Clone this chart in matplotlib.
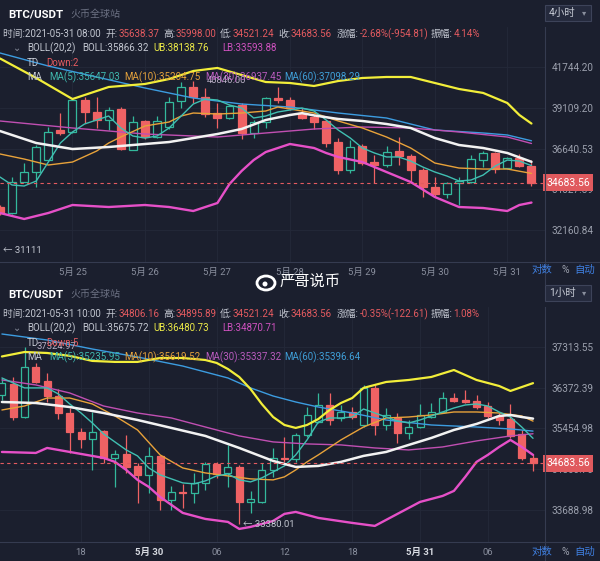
import matplotlib.pyplot as plt
from matplotlib.patches import Rectangle, Ellipse
from matplotlib.ticker import NullLocator, NullFormatter
from matplotlib.lines import Line2D

plt.rcParams['font.family'] = ['Roboto', 'Noto Sans CJK SC', 'DejaVu Sans']

BG = '#1b1f2e'
GRID = '#242939'
EDGE = '#353b50'
RED = '#ef6264'
GREEN = '#33b89c'
LABEL = '#c3c7d1'
TICK = '#9ba0ad'
T_RED = '#e45b60'
C_MID = '#f2f2f2'
C_UB = '#f2ee3a'
C_LB = '#e650c8'
C_MA5 = '#40bfb2'
C_MA10 = '#e8a23a'
C_MA30 = '#c04fb2'
C_MA60 = '#3c9ce0'

# ---------------- 4h panel (5/24 00:00 .. 5/31 08:00) ----------------
h4_open = [33360, 33050, 34720, 35280, 35968, 37745, 37625, 39609, 38850, 38357,
           39040, 36551, 38296, 37324, 37928, 39546, 40445, 39800, 38790, 38480,
           39292, 37565, 38234, 39736, 39609, 38790, 38542, 38296, 37024, 35396,
           36790, 35853, 35682, 36492, 36200, 35396, 34445, 34060, 34667, 34722,
           35968, 36378, 35510, 36084, 35638.37]
h4_high = [33460, 35020, 35795, 36847, 37930, 38790, 39670, 39800, 39800, 39165,
           39165, 38604, 38357, 38604, 39800, 40770, 40846, 40380, 39420, 39292,
           39420, 38357, 39800, 40445, 39800, 39103, 38666, 38357, 37262, 37142,
           36906, 36262, 36790, 37324, 36320, 35510, 35001, 34722, 35001, 36262,
           36492, 36434, 36142, 36320, 35998.00]
h4_low = [32930, 33000, 34700, 34445, 35950, 37444, 37565, 38170, 37868, 37745,
          36551, 36540, 37203, 37264, 37806, 39103, 39418, 38542, 37868, 38420,
          37203, 37264, 37868, 39418, 38977, 38420, 37806, 36730, 35170, 35226,
          35682, 34667, 35568, 35682, 34667, 33895, 33895, 33840, 33463, 34667,
          35568, 35226, 35453, 35568, 34521.24]
h4_close = [33040, 34740, 35280, 36725, 37625, 37565, 39609, 38853, 38357, 38977,
            36610, 38234, 37324, 38296, 39483, 40445, 39800, 38728, 38480, 39230,
            37565, 38234, 39736, 39609, 39103, 38480, 38234, 36965, 35396, 36730,
            35796, 35682, 36434, 36200, 35396, 34445, 34060, 34667, 34777, 36026,
            36378, 35453, 36084, 35638.37, 34683.56]

h4_ub_idx = [0, 3, 6, 9, 12, 14, 16, 18, 20, 22, 24, 26, 28, 30, 32, 34, 36, 38, 40, 42, 43, 44]
h4_ub = [42340, 41034, 39670, 40445, 40640, 40966, 41497, 41700, 41231, 40770, 40706,
         40510, 40836, 41034, 41100, 41100, 40706, 40315, 40060, 39418, 38666, 38138.76]
h4_mid_idx = [0, 3, 6, 9, 12, 14, 16, 18, 20, 22, 24, 25, 26, 28, 30, 32, 34, 36, 38, 40, 42, 44]
h4_mid = [37684, 36966, 36610, 36730, 36906, 37024, 37262, 37503, 37806, 38357, 38666,
          38780, 38640, 38420, 38296, 38111, 37868, 37262, 36847, 36670, 36378, 35866.32]
h4_lb_idx = [0, 2, 4, 6, 9, 12, 14, 16, 18, 19, 20, 21, 22, 24, 26, 27, 28, 30, 32, 34,
             36, 38, 40, 42, 43, 44]
h4_lb = [33036, 32720, 33036, 33463, 33355, 33463, 33355, 33142, 33570, 34610, 35340,
         35968, 36434, 36906, 36670, 36378, 36146, 35853, 35283, 34722, 33895, 33355,
         33302, 33142, 33463, 33593.88]
h4_ma60_idx = [0, 4, 8, 12, 16, 20, 24, 28, 32, 36, 40, 42, 44]
h4_ma60 = [42714, 41830, 41100, 40380, 39736, 39355, 39165, 38790, 38480, 37745, 37565,
           37444, 37098.29]
h4_ma30_idx = [0, 6, 12, 18, 22, 26, 30, 34, 38, 42, 44]
h4_ma30 = [38296, 37868, 37503, 37324, 37565, 37806, 37928, 37868, 37625, 37324, 36937.45]
h4_ma10_idx = [0, 2, 4, 6, 8, 9, 10, 12, 14, 15, 16, 18, 20, 22, 23, 24, 26, 28, 30, 32,
               34, 36, 38, 40, 42, 44]
h4_ma10 = [36320, 36026, 35682, 35853, 36492, 36966, 37324, 37989, 38234, 38604, 38790,
           38728, 38790, 38915, 39165, 39040, 38790, 38296, 37868, 37324, 36670, 35796,
           35510, 35453, 35453, 35204.75]
h4_ma5 = [35000, 34555, 34500, 34777, 35853, 36966, 37625, 38111, 38357, 38604, 37868,
          37384, 37262, 37384, 37868, 38604, 39355, 39670, 39609, 39292, 39103, 38480,
          38604, 38853, 38977, 39103, 38915, 38357, 37745, 37262, 36670, 36378, 36146,
          36146, 35910, 35568, 35283, 35057, 34777, 34833, 35113, 35625, 35968, 35910,
          35647.03]

h4_xticks = [6, 12, 18, 24, 30, 36, 42]
h4_xlabels = ['5月 25', '5月 26', '5月 27', '5月 28', '5月 29', '5月 30', '5月 31']
h4_yticks = [32160.84, 34327.89, 36640.53, 39109.20, 41744.20]

# ---------------- 1h panel (5/29 11:00 .. 5/31 10:00) ----------------
h1_open = [36210, 36462, 35712, 36853, 36531, 36187, 35802, 35378, 35222, 35400,
           34804, 34891, 34629, 34434, 34848, 33896, 34068, 34046, 34261, 34673,
           34477, 34607, 33853, 33853, 34542, 34804, 34782, 35311, 35600, 35983,
           35690, 35825, 35533, 36372, 35533, 35690, 35355, 35488, 35712, 35825,
           36141, 36096, 36073, 35960, 35735, 35667, 35333, 34806.16]
h1_high = [36600, 36622, 37324.97, 36945, 36715, 36347, 35915, 35467, 35825, 35422,
           34979, 35311, 34695, 35045, 34870, 34196, 34240, 34477, 34717, 34717,
           35090, 34651, 34089, 34695, 35023, 35266, 35355, 35937, 36256, 36256,
           35983, 35937, 36440, 36440, 35915, 35802, 35645, 36004, 36028, 36279,
           36256, 36324, 36210, 36051, 35802, 36004, 35422, 34895.89]
h1_low = [36096, 35645, 35690, 36485, 36051, 35667, 34913, 35023, 34542, 34695,
          34175, 34477, 33832, 34046, 33683, 33683, 33726, 33832, 34110, 34369,
          34175, 33380.01, 33620, 33832, 34391, 34717, 34717, 35266, 35578, 35533,
          35622, 35667, 35488, 35311, 35422, 35134, 35222, 35467, 35690, 35802,
          36051, 36028, 35892, 35690, 35533, 35244, 34760, 34521.24]
h1_close = [36485, 35712, 36853, 36508, 36187, 35802, 35378, 35222, 35378, 34804,
            34891, 34607, 34434, 34848, 33896, 34068, 34046, 34261, 34673, 34456,
            34607, 33853, 33917, 34542, 34804, 34782, 35311, 35757, 35983, 35645,
            35825, 35712, 36372, 35533, 35757, 35355, 35488, 35757, 35825, 36141,
            36073, 36051, 35937, 35735, 35645, 35289, 34806.17, 34683.56]

h1_ub_idx = [0, 2, 4, 6, 8, 10, 12, 14, 16, 18, 19, 20, 21, 22, 23, 24, 25, 26, 27, 28,
             29, 30, 31, 32, 34, 36, 38, 40, 42, 44, 45, 47]
h1_ub = [37099, 37203, 37180, 37113, 36995, 36972, 36972, 37063, 37063, 37017, 36948,
         36807, 36623, 36347, 36004, 35712, 35533, 35467, 35533, 35667, 35870, 36028,
         36141, 36372, 36508, 36554, 36623, 36784, 36554, 36416, 36302, 36480.73]
h1_mid_idx = [0, 3, 6, 9, 12, 15, 18, 21, 24, 26, 28, 30, 32, 34, 36, 38, 40, 42, 44, 45, 46, 47]
h1_mid = [36051, 36028, 35937, 35802, 35645, 35467, 35289, 35023, 34738, 34607, 34629,
          34717, 34848, 34935, 35090, 35244, 35422, 35556, 35735, 35757, 35712, 35675.72]
h1_lb_idx = [0, 3, 4, 6, 9, 10, 11, 12, 13, 14, 15, 16, 18, 20, 21, 22, 24, 25, 26, 28,
             31, 33, 35, 37, 39, 40, 41, 42, 43, 44, 45, 46, 47]
h1_lb = [34935, 34913, 35023, 34935, 34804, 34717, 34542, 34326, 34175, 33960, 33790,
         33620, 33493, 33430, 33283, 33325, 33451, 33599, 33641, 33514, 33409, 33346,
         33599, 33853, 33981, 34089, 34391, 34717, 34870, 35045, 35200, 35045, 34870.71]
h1_ma60_idx = [0, 4, 8, 12, 16, 20, 22, 24, 26, 28, 31, 34, 38, 42, 45, 47]
h1_ma60 = [37627, 37485, 37273, 37086, 36876, 36600, 36372, 36187, 36051, 35937, 35802,
           35645, 35533, 35488, 35444, 35396.64]
h1_ma30_idx = [0, 3, 6, 9, 12, 15, 18, 21, 24, 27, 30, 33, 36, 39, 42, 45, 47]
h1_ma30 = [36554, 36440, 36256, 35960, 35802, 35690, 35488, 35289, 35156, 35112, 35090,
           35023, 34979, 35045, 35178, 35289, 35337.32]
h1_ma10_idx = [0, 2, 4, 6, 8, 10, 12, 14, 16, 18, 20, 22, 24, 25, 26, 27, 28, 30, 32, 34,
               36, 38, 40, 42, 44, 46, 47]
h1_ma10 = [35870, 35960, 36141, 36141, 36006, 35735, 35422, 34870, 34585, 34477, 34412,
           34348, 34326, 34391, 34542, 34717, 34870, 35200, 35488, 35690, 35712, 35757,
           35825, 35825, 35802, 35735, 35619.52]
h1_ma5 = [36600, 36485, 36372, 36372, 36372, 36233, 36006, 35802, 35578, 35333, 35156,
          34979, 34848, 34585, 34434, 34348, 34261, 34240, 34304, 34412, 34456, 34326,
          34283, 34369, 34499, 34629, 34870, 35200, 35600, 35690, 35690, 35712, 35892,
          35802, 35712, 35622, 35578, 35645, 35735, 35825, 35915, 35983, 36006, 35960,
          35825, 35712, 35488, 35235.95]

h1_xticks = [7, 13, 19, 25, 31, 37, 43]
h1_xlabels = ['18', '5月 30', '06', '12', '18', '5月 31', '06']
h1_yticks = [33688.98, 34560.70, 35454.98, 36372.39, 37313.55]

last_price = 34683.56

fig = plt.figure(figsize=(6, 5.61), dpi=100, facecolor=BG)


def fx(x):
    return x / 600


def fy(y):
    return 1 - y / 561


def panel(top, o, h, l, c, w, xlim, ylim, yticks, ylabels, xticks, xlabels, bold, lines):
    ax = fig.add_axes([0, fy(top + 235), fx(545), 235 / 561])
    ax.set_facecolor(BG)
    ax.set_yscale('log')
    ax.set_xlim(*xlim)
    ax.set_ylim(*ylim)
    for i in range(len(o)):
        up = c[i] >= o[i]
        col = GREEN if up else RED
        ax.vlines(i, l[i], h[i], color=col, lw=0.9, zorder=2)
        lo, hi = min(o[i], c[i]), max(o[i], c[i])
        ax.add_patch(Rectangle((i - w / 2, lo), w, hi - lo, fc=BG if up else RED,
                               ec=col, lw=0.9, zorder=2.5))
    for idx, vals, col, lw in lines:
        ax.plot(idx, vals, color=col, lw=lw, zorder=3, solid_capstyle='round')
    ax.axhline(last_price, color=T_RED, lw=0.8, ls=(0, (3, 3)), zorder=3.5)

    ax.yaxis.tick_right()
    ax.set_yticks(yticks)
    ax.set_yticklabels(ylabels)
    ax.yaxis.set_minor_locator(NullLocator())
    ax.yaxis.set_minor_formatter(NullFormatter())
    ax.set_xticks(xticks)
    ax.set_xticklabels(xlabels)
    ax.tick_params(axis='y', length=0, pad=4.5, labelsize=7.2, labelcolor=TICK)
    ax.tick_params(axis='x', length=0, pad=4, labelsize=6.8, labelcolor='#8a8f9e')
    for lab, b in zip(ax.get_xticklabels(), bold):
        if b:
            lab.set_color('#d8dbe2')
            lab.set_fontweight('bold')
    ax.grid(True, color=GRID, lw=0.6)
    ax.set_axisbelow(True)
    for s in ['top', 'left', 'right', 'bottom']:
        ax.spines[s].set_visible(False)

    ax.text(1.002, last_price, f'{last_price:.2f}', transform=ax.get_yaxis_transform(),
            ha='left', va='center', fontsize=7.5, color='white', zorder=6, clip_on=False,
            bbox=dict(boxstyle='square,pad=0.32', fc='#e05a5e', ec='none'))
    return ax


ax1 = panel(27, h4_open, h4_high, h4_low, h4_close, 0.66, (0, 45.12), (30536, 44535),
            h4_yticks, ['32160.84', '34327.89', '36640.53', '39109.20', '41744.20'],
            h4_xticks, h4_xlabels, [False] * 7,
            [(h4_ma60_idx, h4_ma60, C_MA60, 1.0), (h4_ma30_idx, h4_ma30, C_MA30, 1.0),
             (h4_ma10_idx, h4_ma10, C_MA10, 1.0), (range(len(h4_ma5)), h4_ma5, C_MA5, 1.0),
             (h4_lb_idx, h4_lb, C_LB, 1.7), (h4_ub_idx, h4_ub, C_UB, 1.6),
             (h4_mid_idx, h4_mid, C_MID, 1.8)])
ax1.text(0.25, 31111, '← 31111', fontsize=6.8, color=LABEL, va='center', zorder=5)
ax1.text(17.1, 40846, '40846.00', fontsize=6.8, color='#b9b0c6', va='center', zorder=5)

ax2 = panel(307, h1_open, h1_high, h1_low, h1_close, 0.62, (-0.17, 48.06), (33010, 38272),
            h1_yticks, ['33688.98', '34560.70', '35454.98', '36372.39', '37313.55'],
            h1_xticks, h1_xlabels, [False, True, False, False, False, True, False],
            [(h1_ma60_idx, h1_ma60, C_MA60, 1.0), (h1_ma30_idx, h1_ma30, C_MA30, 1.0),
             (h1_ma10_idx, h1_ma10, C_MA10, 1.0), (range(len(h1_ma5)), h1_ma5, C_MA5, 1.0),
             (h1_lb_idx, h1_lb, C_LB, 1.7), (h1_ub_idx, h1_ub, C_UB, 1.6),
             (h1_mid_idx, h1_mid, C_MID, 1.8)])
ax2.text(21.3, 33380.01, '← 33380.01', fontsize=6.8, color=LABEL, va='center', zorder=5)
ax2.text(3.1, 37324.97, '37324.97', fontsize=6.8, color='#b9b0c6', va='center', zorder=5)

# frame lines
for top in (27, 307):
    fig.add_artist(Line2D([fx(545), fx(545)], [fy(top), fy(top + 258)], color=EDGE, lw=0.8))
    fig.add_artist(Line2D([0, 1], [fy(top + 235), fy(top + 235)], color=EDGE, lw=0.8))

renderer = fig.canvas.get_renderer()


def chain(x, y, parts, size=7, weight='normal'):
    for text, col in parts:
        t = fig.text(fx(x), fy(y), text, color=col, fontsize=size, va='center',
                     ha='left', fontweight=weight, zorder=10)
        x = t.get_window_extent(renderer).x1 + 0.5


def header(dy, tf, when, o, h, l, c, chg, amp, boll, ub, lb, td, ma):
    chain(8, dy + 14, [('BTC/USDT', 'white')], size=8.2, weight='bold')
    chain(70, dy + 14, [('火币全球站', '#6c7183')], size=7.2)
    fig.patches.append(Rectangle((fx(545), fy(dy + 21)), fx(46), 16 / 561, fc='#252a3d',
                                 ec='#3d4359', lw=0.8, transform=fig.transFigure))
    chain(549, dy + 13, [(tf, '#c8ccd6')], size=7.5)
    chain(582, dy + 13, [('▾', '#8a8f9e')], size=6)
    y2 = dy + 34
    chain(3, y2, [('时间:' + when, LABEL)])
    for x, lab, val in [(106, '开:', o), (163, '高:', h), (220, '低:', l), (278, '收:', c),
                        (337, '涨幅:', chg), (431, '振幅:', amp)]:
        chain(x, y2, [(lab, LABEL), (val, T_RED)])
    y3 = dy + 48
    chain(13, y3, [('⌄', '#8a8f9e')], size=7)
    chain(27, y3, [('BOLL(20,2)', LABEL)])
    chain(82, y3, [('BOLL:' + boll, LABEL)])
    chain(153, y3, [('UB:' + ub, '#ecea48')])
    chain(222, y3, [('LB:' + lb, '#d052c0')])
    chain(27, dy + 63, [('TD', LABEL)])
    chain(46, dy + 63, [(td, T_RED)])
    y5 = dy + 77
    chain(27, y5, [('MA', LABEL)])
    for x, txt, col in zip([49, 124, 205, 284], ma, ['#3fb7ad', '#e5a23c', '#b85bbd', '#3f9fd8']):
        chain(x, y5, [(txt, col)])


header(0, '4小时', '2021-05-31 08:00', '35638.37', '35998.00', '34521.24', '34683.56',
       '-2.68%(-954.81)', '4.14%', '35866.32', '38138.76', '33593.88', 'Down:2',
       ['MA(5):35647.03', 'MA(10):35204.75', 'MA(30):36937.45', 'MA(60):37098.29'])
header(280, '1小时', '2021-05-31 10:00', '34806.16', '34895.89', '34521.24', '34683.56',
       '-0.35%(-122.61)', '1.08%', '35675.72', '36480.73', '34870.71', 'Down:5',
       ['MA(5):35235.95', 'MA(10):35619.52', 'MA(30):35337.32', 'MA(60):35396.64'])

# bottom-right switches
for y in (270, 552):
    chain(532, y, [('对数', '#3f7fe0')], size=7.5)
    chain(561, y, [('%', '#9ba0ad')], size=7.5)
    chain(574, y, [('自动', '#3f7fe0')], size=7.5)

# watermark
fig.patches.append(Ellipse((fx(266), fy(283)), fx(18), 14 / 561, fc='none', ec='white',
                           lw=2.0, transform=fig.transFigure))
fig.patches.append(Ellipse((fx(265), fy(284)), fx(5), 5 / 561, fc='white', ec='none',
                           transform=fig.transFigure))
chain(280, 282, [('严哥说币', 'white')], size=11)

fig.savefig('out.png', dpi=100, facecolor=BG)
